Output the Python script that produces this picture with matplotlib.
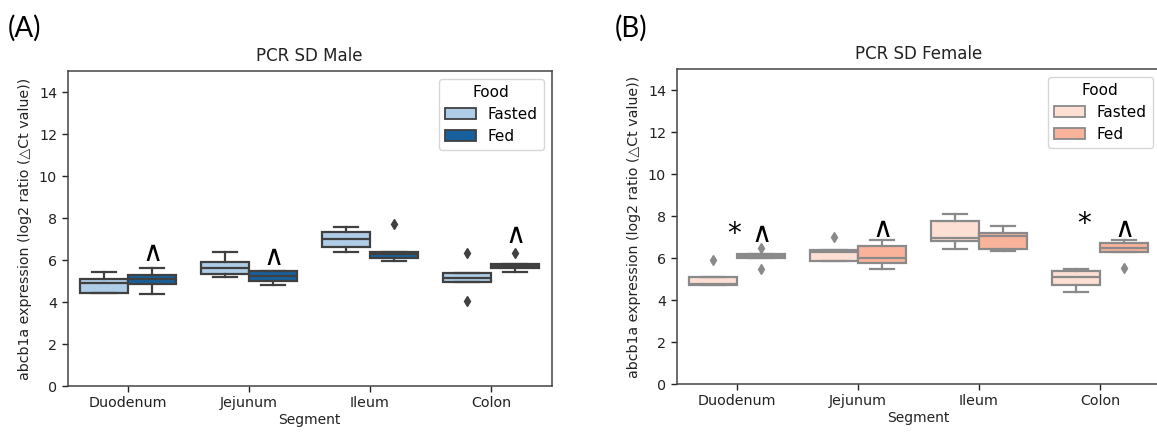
import matplotlib
matplotlib.use("Agg")
import matplotlib.pyplot as plt
from matplotlib.patches import Patch

# ---------------- data ----------------
segments = ["Duodenum", "Jejunum", "Ileum", "Colon"]
groups = ["Fasted", "Fed"]

male_fasted_lo = [4.45, 5.20, 6.40, 4.94]
male_fasted_q1 = [4.45, 5.33, 6.63, 4.94]
male_fasted_med = [4.89, 5.60, 7.00, 5.16]
male_fasted_q3 = [5.08, 5.92, 7.35, 5.37]
male_fasted_hi = [5.44, 6.40, 7.59, 5.37]
male_fasted_out = [[], [], [], [6.35, 4.03]]

male_fed_lo = [4.38, 4.81, 5.95, 5.44]
male_fed_q1 = [4.86, 5.00, 6.08, 5.60]
male_fed_med = [5.10, 5.24, 6.27, 5.71]
male_fed_q3 = [5.29, 5.49, 6.40, 5.80]
male_fed_hi = [5.63, 5.49, 6.40, 5.80]
male_fed_out = [[], [], [7.71], [6.33]]

female_fasted_lo = [4.70, 5.88, 6.41, 4.37]
female_fasted_q1 = [4.70, 5.88, 6.81, 4.71]
female_fasted_med = [4.76, 6.30, 6.94, 5.11]
female_fasted_q3 = [5.08, 6.36, 7.78, 5.38]
female_fasted_hi = [5.08, 6.36, 8.08, 5.48]
female_fasted_out = [[5.92], [7.02], [], []]

female_fed_lo = [6.01, 5.46, 6.35, 6.27]
female_fed_q1 = [6.01, 5.78, 6.41, 6.27]
female_fed_med = [6.10, 5.98, 7.05, 6.46]
female_fed_q3 = [6.19, 6.57, 7.20, 6.73]
female_fed_hi = [6.19, 6.86, 7.54, 6.86]
female_fed_out = [[6.46, 5.48], [], [], [5.54]]

male_caret_x = [0.2, 1.2, 3.2]
male_caret_y = [6.35, 6.15, 7.2]
female_caret_x = [0.2, 1.2, 3.2]
female_caret_y = [7.15, 7.4, 7.4]
female_star_x = [-0.02, 2.87]
female_star_y = [7.15, 7.6]

male_colors = ["#afcde6", "#17609c"]
female_colors = ["#fddfd4", "#f9b39a"]
male_edge = "#404040"
female_edge = "#8a8a8a"


def stats(lo, q1, med, q3, hi, out):
    return [dict(whislo=a, q1=b, med=c, q3=d, whishi=e, fliers=f)
            for a, b, c, d, e, f in zip(lo, q1, med, q3, hi, out)]


def draw(ax, series, colors, edge, title):
    n = len(segments)
    width = 0.4
    for gi, (st, col) in enumerate(zip(series, colors)):
        off = -0.2 if gi == 0 else 0.2
        pos = [i + off for i in range(n)]
        ax.bxp(st, positions=pos, widths=width * 0.98, patch_artist=True,
               showfliers=True, manage_ticks=False,
               boxprops=dict(facecolor=col, edgecolor=edge, linewidth=1.6),
               medianprops=dict(color=edge, linewidth=1.6),
               whiskerprops=dict(color=edge, linewidth=1.6),
               capprops=dict(color=edge, linewidth=1.6),
               flierprops=dict(marker="d", markerfacecolor=edge,
                               markeredgecolor=edge, markersize=5.5,
                               linestyle="none"))
    ax.set_xlim(-0.5, n - 0.5)
    ax.set_ylim(0, 15)
    ax.set_xticks(range(n))
    ax.set_xticklabels(segments)
    ax.set_yticks([0, 2, 4, 6, 8, 10, 12, 14])
    ax.tick_params(labelsize=10.3, colors="#222222", length=4, width=1)
    for s in ax.spines.values():
        s.set_color("#444444")
        s.set_linewidth(1.1)
    ax.set_xlabel("Segment", fontsize=10, color="#222222", labelpad=2)
    ax.set_ylabel("abcb1a expression (log2 ratio (\u25b3Ct value))",
                  fontsize=10.2, color="#222222", labelpad=5)
    ax.set_title(title, fontsize=12, color="#222222", pad=7)
    handles = [Patch(facecolor=c, edgecolor=edge, linewidth=1.3, label=g)
               for c, g in zip(colors, groups)]
    leg = ax.legend(handles=handles, title="Food", loc="upper right",
                    fontsize=11, title_fontsize=11, frameon=True,
                    fancybox=True, borderaxespad=0.5, labelspacing=0.45,
                    handlelength=2.0, handletextpad=0.8)
    leg.get_frame().set_edgecolor("#cccccc")


fig = plt.figure(figsize=(11.57, 4.33), dpi=100)
axA = fig.add_axes([67.5 / 1157, 47 / 433, 484 / 1157, 315 / 433])
axB = fig.add_axes([676.5 / 1157, 49 / 433, 484 / 1157, 315 / 433])

draw(axA,
     [stats(male_fasted_lo, male_fasted_q1, male_fasted_med, male_fasted_q3,
            male_fasted_hi, male_fasted_out),
      stats(male_fed_lo, male_fed_q1, male_fed_med, male_fed_q3,
            male_fed_hi, male_fed_out)],
     male_colors, male_edge, "PCR SD Male")
draw(axB,
     [stats(female_fasted_lo, female_fasted_q1, female_fasted_med,
            female_fasted_q3, female_fasted_hi, female_fasted_out),
      stats(female_fed_lo, female_fed_q1, female_fed_med, female_fed_q3,
            female_fed_hi, female_fed_out)],
     female_colors, female_edge, "PCR SD Female")

for x, y in zip(male_caret_x, male_caret_y):
    axA.text(x, y, "\u2227", ha="center", va="center", fontsize=20, color="black")
for x, y in zip(female_caret_x, female_caret_y):
    axB.text(x, y, "\u2227", ha="center", va="center", fontsize=20, color="black")
for x, y in zip(female_star_x, female_star_y):
    axB.text(x, y, "*", ha="center", va="center", fontsize=20, color="black")

fig.text(8 / 1157, 1 - 28 / 433, "(A)", fontsize=20, family="Lato", va="center")
fig.text(615 / 1157, 1 - 28 / 433, "(B)", fontsize=20, family="Lato", va="center")

fig.savefig("out.png", dpi=100)
